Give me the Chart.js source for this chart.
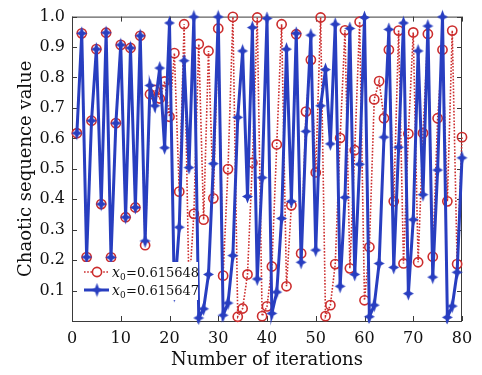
<!DOCTYPE html>
<html>
<head>
<meta charset="utf-8">
<script src="https://cdn.jsdelivr.net/npm/chart.js@4.4.1/dist/chart.umd.min.js"></script>
<style>
html,body{margin:0;padding:0;background:#fff;}
#wrap{width:482px;height:375px;}
</style>
</head>
<body>
<div id="wrap"><canvas id="c" width="482" height="375"></canvas></div>
<script>
// ---- data ----
const iterations = [1,2,3,4,5,6,7,8,9,10,11,12,13,14,15,16,17,18,19,20,
  21,22,23,24,25,26,27,28,29,30,31,32,33,34,35,36,37,38,39,40,
  41,42,43,44,45,46,47,48,49,50,51,52,53,54,55,56,57,58,59,60,
  61,62,63,64,65,66,67,68,69,70,71,72,73,74,75,76,77,78,79,80];

// x0 = 0.615648 (red, dotted, circles)
const seriesA = [0.617,0.945,0.210,0.658,0.893,0.384,0.947,0.209,0.650,0.907,
  0.341,0.897,0.373,0.937,0.249,0.745,0.759,0.731,0.787,0.671,
  0.880,0.425,0.975,0.100,0.352,0.910,0.333,0.887,0.403,0.961,
  0.149,0.499,0.999,0.014,0.041,0.153,0.520,0.997,0.016,0.048,
  0.179,0.580,0.975,0.114,0.380,0.942,0.222,0.688,0.858,0.488,
  0.997,0.016,0.052,0.187,0.601,0.955,0.173,0.561,0.983,0.068,
  0.243,0.728,0.788,0.666,0.891,0.393,0.954,0.189,0.615,0.948,
  0.193,0.617,0.943,0.211,0.666,0.891,0.393,0.954,0.187,0.604];

// x0 = 0.615647 (blue, solid, stars)
const seriesB = [0.617,0.945,0.210,0.658,0.893,0.384,0.947,0.209,0.650,0.907,
  0.341,0.897,0.373,0.937,0.263,0.774,0.707,0.831,0.569,0.979,
  0.085,0.308,0.855,0.504,0.999,0.010,0.040,0.153,0.517,0.999,
  0.019,0.059,0.215,0.669,0.887,0.409,0.964,0.138,0.471,0.994,
  0.025,0.095,0.337,0.893,0.393,0.945,0.193,0.623,0.939,0.233,
  0.707,0.826,0.582,0.975,0.114,0.406,0.961,0.153,0.515,0.997,
  0.014,0.052,0.189,0.604,0.958,0.176,0.571,0.979,0.090,0.333,
  0.887,0.415,0.969,0.144,0.496,0.999,0.012,0.049,0.160,0.536];

const seriesNames = ['0.615648', '0.615647'];
const xTicks = [0,10,20,30,40,50,60,70,80];
const yTicks = [0.1,0.2,0.3,0.4,0.5,0.6,0.7,0.8,0.9,1.0];

// ---- styles ----
const RED = 'rgb(204,45,45)';
const BLUE = 'rgb(40,62,192)';
const SERIF = '"DejaVu Serif", serif';

function starMarker(color){
  const c = document.createElement('canvas');
  c.width = 13; c.height = 15;
  const g = c.getContext('2d');
  const cx = 6.5, cy = 7.5, rx = 5.5, ry = 7, ri = 1.9;
  g.fillStyle = color;
  g.beginPath();
  g.moveTo(cx, cy - ry);
  g.lineTo(cx + ri, cy - ri);
  g.lineTo(cx + rx, cy);
  g.lineTo(cx + ri, cy + ri);
  g.lineTo(cx, cy + ry);
  g.lineTo(cx - ri, cy + ri);
  g.lineTo(cx - rx, cy);
  g.lineTo(cx - ri, cy - ri);
  g.closePath();
  g.fill();
  return c;
}
const blueStar = starMarker(BLUE);

const toPts = (ys) => iterations.map((x, i) => ({x: x, y: ys[i]}));

// box, inward ticks and in-plot legend
const framePlugin = {
  id: 'frame',
  beforeDatasetsDraw(chart){
    const {ctx, chartArea: a, scales} = chart;
    ctx.save();
    ctx.strokeStyle = '#3a3a3a';
    ctx.lineWidth = 1;
    ctx.strokeRect(a.left + 0.5, a.top + 0.5, a.right - a.left - 1, a.bottom - a.top);
    ctx.beginPath();
    xTicks.forEach(v => {
      const px = Math.round(scales.x.getPixelForValue(v)) + 0.5;
      ctx.moveTo(px, a.bottom); ctx.lineTo(px, a.bottom - 5);
      ctx.moveTo(px, a.top); ctx.lineTo(px, a.top + 5);
    });
    yTicks.forEach(v => {
      const py = Math.round(scales.y.getPixelForValue(v)) + 0.5;
      ctx.moveTo(a.left, py); ctx.lineTo(a.left + 5, py);
      ctx.moveTo(a.right, py); ctx.lineTo(a.right - 5, py);
    });
    ctx.stroke();
    ctx.restore();
  },
  afterDatasetsDraw(chart){
    const {ctx, chartArea: a} = chart;
    ctx.save();
    // legend background
    ctx.fillStyle = '#fff';
    ctx.fillRect(a.left + 8, a.bottom - 59, 118, 38);
    const rows = [
      {y: a.bottom - 49, color: RED, dash: [1.6,1.6], w: 1.6, marker: 'circle', name: seriesNames[0]},
      {y: a.bottom - 31, color: BLUE, dash: [], w: 3, marker: 'star', name: seriesNames[1]}
    ];
    rows.forEach(r => {
      const x0 = a.left + 12, x1 = a.left + 37, xm = a.left + 25;
      ctx.strokeStyle = r.color;
      ctx.lineWidth = r.w;
      ctx.setLineDash(r.dash);
      ctx.beginPath(); ctx.moveTo(x0, r.y); ctx.lineTo(x1, r.y); ctx.stroke();
      ctx.setLineDash([]);
      if (r.marker === 'circle') {
        ctx.fillStyle = '#fff';
        ctx.lineWidth = 1.6;
        ctx.beginPath(); ctx.arc(xm, r.y, 4.6, 0, Math.PI * 2); ctx.fill(); ctx.stroke();
      } else {
        ctx.drawImage(blueStar, xm - 6.5, r.y - 7.5);
      }
      // text: italic x, subscript 0, "=value"
      let tx = a.left + 40;
      const base = r.y + 5;
      ctx.fillStyle = '#111';
      ctx.textBaseline = 'alphabetic';
      ctx.textAlign = 'left';
      ctx.font = 'italic 14px ' + SERIF;
      ctx.fillText('x', tx, base);
      tx += ctx.measureText('x').width;
      ctx.font = '9px ' + SERIF;
      ctx.fillText('0', tx, base + 3);
      tx += ctx.measureText('0').width + 0.5;
      ctx.font = '13px ' + SERIF;
      ctx.fillText('=' + r.name, tx, base);
    });
    ctx.restore();
  }
};

new Chart(document.getElementById('c'), {
  type: 'line',
  data: {
    datasets: [
      {
        label: 'x0=' + seriesNames[0],
        data: toPts(seriesA),
        borderColor: RED,
        borderWidth: 1.6,
        borderDash: [1.6, 1.6],
        pointStyle: 'circle',
        pointRadius: 4.6,
        pointBorderWidth: 1.6,
        pointBorderColor: RED,
        pointBackgroundColor: 'rgba(255,255,255,0)',
        tension: 0,
        clip: false,
        order: 2
      },
      {
        label: 'x0=' + seriesNames[1],
        data: toPts(seriesB),
        borderColor: BLUE,
        borderWidth: 3,
        pointStyle: blueStar,
        pointRadius: 6,
        pointBackgroundColor: BLUE,
        pointBorderColor: BLUE,
        tension: 0,
        clip: false,
        order: 1
      }
    ]
  },
  options: {
    responsive: false,
    devicePixelRatio: 1,
    animation: false,
    layout: {padding: {top: 13, right: 20, left: 0, bottom: 0}},
    plugins: {legend: {display: false}, tooltip: {enabled: false}},
    scales: {
      x: {
        type: 'linear',
        min: 0, max: 80,
        afterBuildTicks: (s) => { s.ticks = xTicks.map(v => ({value: v})); },
        afterFit: (s) => { s.height = 54; },
        grid: {display: false, drawTicks: false},
        border: {display: false},
        ticks: {color: '#111', font: {family: SERIF, size: 16}, padding: 8, maxRotation: 0},
        title: {display: true, text: 'Number of iterations', color: '#111',
                font: {family: SERIF, size: 18}, padding: {top: 4, bottom: 4}}
      },
      y: {
        min: 0, max: 1.0,
        afterBuildTicks: (s) => { s.ticks = yTicks.map(v => ({value: v})); },
        afterFit: (s) => { s.width = 72; },
        grid: {display: false, drawTicks: false},
        border: {display: false},
        ticks: {color: '#111', font: {family: SERIF, size: 16}, padding: 7,
                callback: (v) => Number(v).toFixed(1)},
        title: {display: true, text: 'Chaotic sequence value', color: '#111',
                font: {family: SERIF, size: 18}, padding: {top: 16, bottom: 0}}
      }
    }
  },
  plugins: [framePlugin]
});
</script>
</body>
</html>
